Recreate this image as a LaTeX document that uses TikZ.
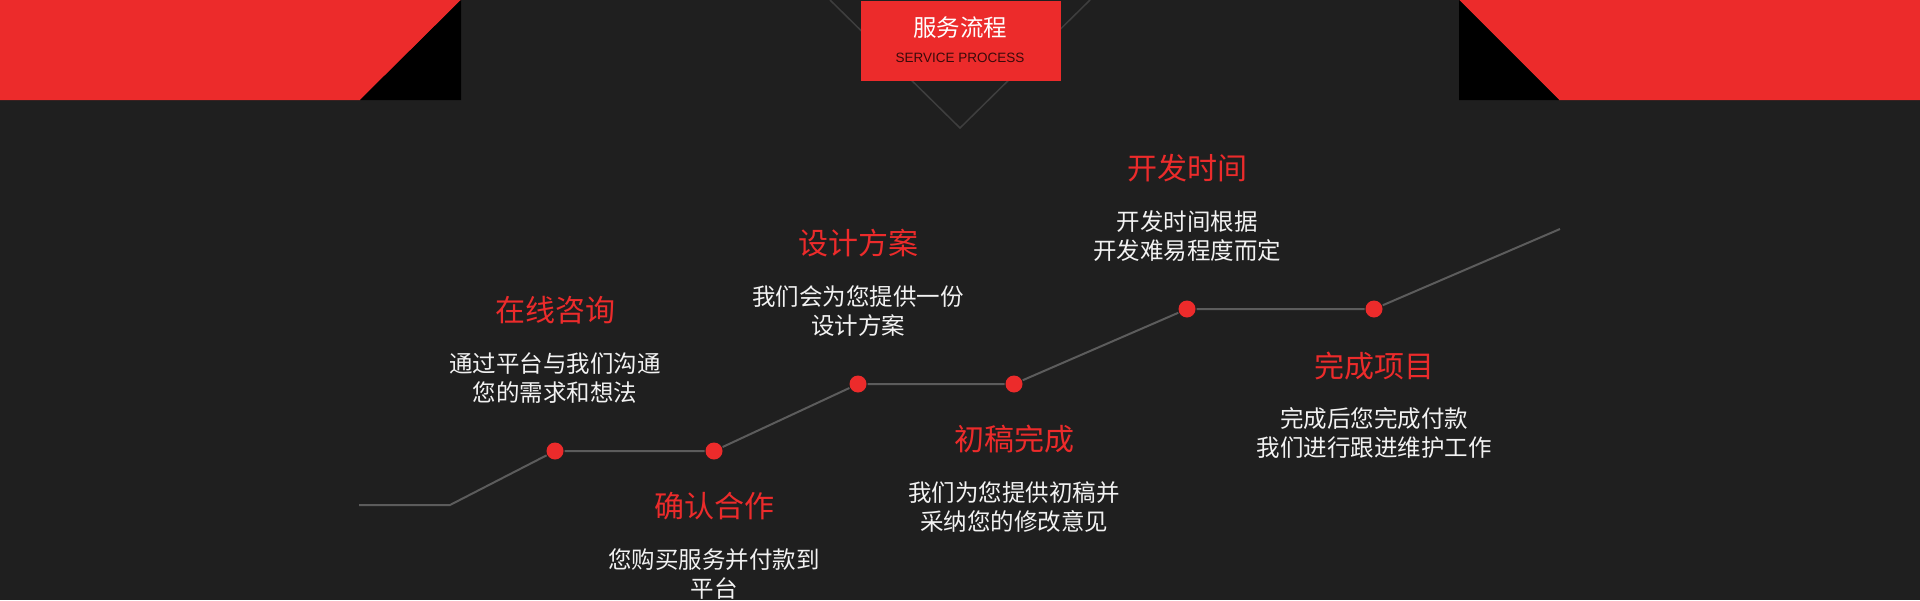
\documentclass[tikz,border=0pt]{standalone}
\usepackage{fontspec}
\setmainfont{Noto Sans CJK SC}
\newfontfamily\latinfont{Liberation Sans}
\usetikzlibrary{positioning}
\definecolor{cbg}{HTML}{1F1F1F}
\definecolor{cred}{HTML}{EC2B2B}
\definecolor{cline}{HTML}{5C5C5C}
\definecolor{cvee}{HTML}{3E3E3E}
\definecolor{cdark}{HTML}{3A0A0A}
\definecolor{ctext}{HTML}{F2F2F2}
\tikzset{
  every picture/.style={line width=2pt},
  dot/.style={circle, fill=cred, minimum size=17pt, inner sep=0pt},
  trail/.style={draw=cline, line width=2pt},
  steptitle/.style={text=cred, font=\fontsize{30}{36}\selectfont},
  stepdesc/.style={text=ctext, align=center, font=\fontsize{23.5}{29}\selectfont},
}

\begin{document}
\begin{tikzpicture}[x=1pt, y=-1pt]
  \useasboundingbox (0,0) rectangle (1920,600);
  \clip (0,0) rectangle (1920,600);
  \fill[cbg] (0,0) rectangle (1920,600);
  % corner bands
  \fill[cred] (0,0) -- (461,0) -- (360,100) -- (0,100) -- cycle;
  \fill[black] (461,0) -- (461,100) -- (360,100) -- cycle;
  \fill[cred] (1459,0) -- (1920,0) -- (1920,100) -- (1559,100) -- cycle;
  \fill[black] (1459,0) -- (1459,100) -- (1559,100) -- cycle;
  % heading
  \draw[cvee, line width=1.5pt] (830,0) -- (960,128) -- (1090,0);
  \node[fill=cred, minimum width=200pt, minimum height=80pt, anchor=north west] (head) at (860,0) {};
  \node[text=white, font=\fontsize{23.5}{28}\selectfont] (headcn) at (960,28) {服务流程};
  \node[text=cdark, font=\latinfont\fontsize{13.5}{16}\selectfont] (headen) at (960,58) {SERVICE PROCESS};
  % steps
  \foreach \i/\x/\y in {1/555/451, 2/714/451, 3/858/384, 4/1014/384, 5/1187/309, 6/1374/309}
    \node[dot] (d\i) at (\x,\y) {};
  \coordinate (start) at (359,505);
  \coordinate (bend) at (450,505);
  \coordinate (end) at (1560,229);
  \draw[trail] (start) -- (bend) -- (d1) -- (d2) -- (d3) -- (d4) -- (d5) -- (d6) -- (end);
  \foreach \i/\ty/\dy/\t/\d in {
      1/141/72.5/在线咨询/{通过平台与我们沟通\\您的需求和想法},
      2/-55/-123.5/确认合作/{您购买服务并付款到\\平台},
      3/141/72.5/设计方案/{我们会为您提供一份\\设计方案},
      4/-55/-123.5/初稿完成/{我们为您提供初稿并\\采纳您的修改意见},
      5/141/72.5/开发时间/{开发时间根据\\开发难易程度而定},
      6/-57/-123.5/完成项目/{完成后您完成付款\\我们进行跟进维护工作}} {
    \node[steptitle] (t\i) at ([yshift=\ty pt]d\i) {\t};
    \node[stepdesc] (s\i) at ([yshift=\dy pt]d\i) {\d};
  }
\end{tikzpicture}
\end{document}
